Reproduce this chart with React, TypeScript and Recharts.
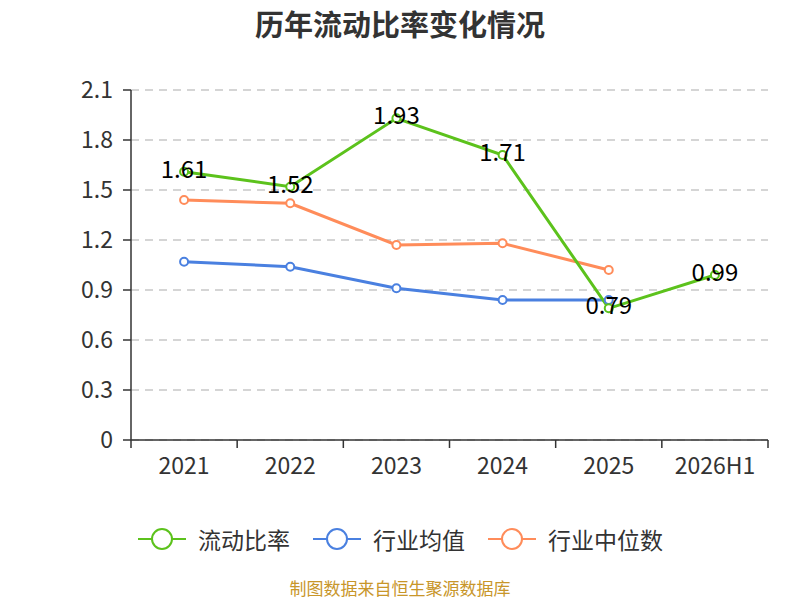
import { LineChart, Line, XAxis, YAxis, CartesianGrid, Legend, LabelList } from 'recharts'

const categories = ['2021', '2022', '2023', '2024', '2025', '2026H1']
const currentRatio = [1.61, 1.52, 1.93, 1.71, 0.79, 0.99]
const industryMean = [1.07, 1.04, 0.91, 0.84, 0.84, null]
const industryMedian = [1.44, 1.42, 1.17, 1.18, 1.02, null]
const yTicks = [0, 0.3, 0.6, 0.9, 1.2, 1.5, 1.8, 2.1]

const seriesInfo = [
  { key: 'current', name: '流动比率', color: '#5cc21c' },
  { key: 'mean', name: '行业均值', color: '#4a80e0' },
  { key: 'median', name: '行业中位数', color: '#ff8c5a' },
]

const data = categories.map((c, i) => ({
  year: c,
  current: currentRatio[i],
  mean: industryMean[i],
  median: industryMedian[i],
}))

const FONT = '"Noto Sans CJK SC", "Noto Sans", sans-serif'
const W = 800
const H = 600
const MARGIN = { top: 90, right: 32, bottom: 100, left: 71 }
const Y_AXIS_W = 60
const BAND = (W - MARGIN.left - Y_AXIS_W - MARGIN.right) / categories.length

const XTick = (props: any) => {
  const { x, y, payload, index } = props
  const last = index === categories.length - 1
  return (
    <g>
      <line x1={x - BAND / 2} x2={x - BAND / 2} y1={y} y2={y + 8} stroke="#333" strokeWidth={1.5} />
      {last && <line x1={x + BAND / 2} x2={x + BAND / 2} y1={y} y2={y + 8} stroke="#333" strokeWidth={1.5} />}
      <text x={x} y={y + 34} textAnchor="middle" fill="#333" fontSize={23} fontFamily={FONT}>
        {payload.value}
      </text>
    </g>
  )
}

const ValueLabel = (props: any) => {
  const { x, y, value } = props
  return (
    <text x={x} y={y + 6} textAnchor="middle" fill="#000" fontSize={24} fontFamily={FONT}>
      {value}
    </text>
  )
}

const LegendContent = () => (
  <div style={{ display: 'flex', justifyContent: 'center', alignItems: 'center', fontFamily: FONT }}>
    {seriesInfo.map(s => (
      <div key={s.key} style={{ display: 'flex', alignItems: 'center', margin: '0 11px' }}>
        <svg width={50} height={26}>
          <line x1={1} x2={49} y1={13} y2={13} stroke={s.color} strokeWidth={2} />
          <circle cx={25} cy={13} r={10} fill="#fff" stroke={s.color} strokeWidth={2} />
        </svg>
        <span style={{ fontSize: 23, color: '#333', marginLeft: 11 }}>{s.name}</span>
      </div>
    ))}
  </div>
)

export default function App() {
  return (
    <div style={{ position: 'absolute', left: 0, top: 0, width: W, height: H, background: '#fff', overflow: 'hidden' }}>
      <div
        style={{
          position: 'absolute',
          top: 3,
          width: W,
          textAlign: 'center',
          fontFamily: FONT,
          fontWeight: 'bold',
          fontSize: 29,
          lineHeight: '40px',
          color: '#333',
        }}
      >
        历年流动比率变化情况
      </div>
      <LineChart width={W} height={H} data={data} margin={MARGIN}>
        <CartesianGrid vertical={false} stroke="#c8c8c8" strokeDasharray="8 6" strokeWidth={1.5} />
        <XAxis
          dataKey="year"
          stroke="#333"
          strokeWidth={1.5}
          tickLine={false}
          tickSize={0}
          tickMargin={0}
          height={60}
          padding={{ left: BAND / 2, right: BAND / 2 }}
          tick={<XTick />}
          interval={0}
        />
        <YAxis
          domain={[0, 2.1]}
          ticks={yTicks}
          width={Y_AXIS_W}
          stroke="#333"
          strokeWidth={1.5}
          tickSize={8}
          tickMargin={10}
          tick={{ fill: '#333', fontSize: 23, fontFamily: FONT }}
        />
        <Legend
          verticalAlign="middle"
          align="center"
          wrapperStyle={{ top: 522, left: 0, width: W }}
          content={<LegendContent />}
        />
        <Line
          dataKey="mean"
          name="行业均值"
          stroke="#4a80e0"
          strokeWidth={3}
          dot={{ r: 4, fill: '#fff', stroke: '#4a80e0', strokeWidth: 2 }}
          isAnimationActive={false}
        />
        <Line
          dataKey="median"
          name="行业中位数"
          stroke="#ff8c5a"
          strokeWidth={3}
          dot={{ r: 4, fill: '#fff', stroke: '#ff8c5a', strokeWidth: 2 }}
          isAnimationActive={false}
        />
        <Line
          dataKey="current"
          name="流动比率"
          stroke="#5cc21c"
          strokeWidth={3}
          dot={{ r: 4, fill: '#fff', stroke: '#5cc21c', strokeWidth: 2 }}
          isAnimationActive={false}
        >
          <LabelList dataKey="current" content={<ValueLabel />} />
        </Line>
      </LineChart>
      <div
        style={{
          position: 'absolute',
          top: 579,
          width: W,
          textAlign: 'center',
          fontFamily: FONT,
          fontSize: 17,
          lineHeight: '18px',
          color: '#c8962a',
        }}
      >
        制图数据来自恒生聚源数据库
      </div>
    </div>
  )
}
